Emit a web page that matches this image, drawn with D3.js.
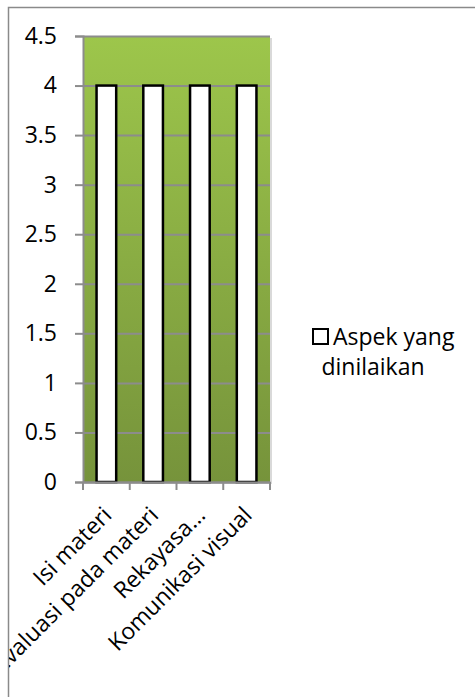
<!DOCTYPE html>
<html>
<head>
<meta charset="utf-8">
<script src="https://cdn.jsdelivr.net/npm/d3@7"></script>
<style>
  body { margin: 0; background: #fff; }
  svg { display: block; font-family: "Open Sans", sans-serif; }
</style>
</head>
<body>
<div id="chart"></div>
<script>
const categories = ['Isi materi', 'Evaluasi pada materi', 'Rekayasa…', 'Komunikasi visual'];
const values = [4, 4, 4, 4];
const yTicks = [0, 0.5, 1, 1.5, 2, 2.5, 3, 3.5, 4, 4.5];
const legendLines = ['Aspek yang', 'dinilaikan'];

const width = 475;
const height = 697;
const plot = { left: 83, right: 270, top: 36, bottom: 482 };

const svg = d3.select('#chart')
    .append('svg')
    .attr('width', width)
    .attr('height', height);

const defs = svg.append('defs');
const grad = defs.append('linearGradient')
    .attr('id', 'bg')
    .attr('x1', 0).attr('y1', 0).attr('x2', 0).attr('y2', 1);
grad.append('stop').attr('offset', '0%').attr('stop-color', '#9dc64b');
grad.append('stop').attr('offset', '100%').attr('stop-color', '#76933b');

defs.append('clipPath').attr('id', 'frame')
    .append('rect')
    .attr('x', 9).attr('y', 8).attr('width', width).attr('height', height);

// outer chart border
svg.append('rect')
    .attr('x', 8.5).attr('y', 7.5)
    .attr('width', width + 10).attr('height', height + 10)
    .attr('fill', 'none')
    .attr('stroke', '#8a8a8a')
    .attr('stroke-width', 1.5);

const g = svg.append('g').attr('clip-path', 'url(#frame)');

const x = d3.scaleBand()
    .domain(categories)
    .range([plot.left, plot.right])
    .paddingInner(0.58)
    .paddingOuter(0.29);

const xCat = d3.scaleBand()
    .domain(categories)
    .range([plot.left, plot.right]);

const y = d3.scaleLinear()
    .domain([0, 4.5])
    .range([plot.bottom, plot.top]);

// plot area shadow + background
g.append('rect')
    .attr('x', plot.left + 2).attr('y', plot.top + 2)
    .attr('width', plot.right - plot.left).attr('height', plot.bottom - plot.top)
    .attr('fill', '#d9d9d9');
g.append('rect')
    .attr('x', plot.left).attr('y', plot.top)
    .attr('width', plot.right - plot.left).attr('height', plot.bottom - plot.top)
    .attr('fill', 'url(#bg)');

// gridlines
g.append('g')
    .attr('transform', `translate(${plot.left},0)`)
    .call(d3.axisLeft(y).tickValues(yTicks).tickSize(-(plot.right - plot.left)).tickFormat(''))
    .call(s => s.select('.domain').remove())
    .call(s => s.selectAll('line').attr('stroke', '#8c8c8c').attr('stroke-width', 2));

// y axis
g.append('g')
    .attr('transform', `translate(${plot.left},0)`)
    .call(d3.axisLeft(y).tickValues(yTicks).tickSize(8).tickPadding(18).tickFormat(d3.format('')))
    .call(s => s.select('.domain').attr('stroke', '#8c8c8c').attr('stroke-width', 2))
    .call(s => s.selectAll('line').attr('stroke', '#8c8c8c').attr('stroke-width', 2))
    .call(s => s.selectAll('text')
        .attr('font-size', 23)
        .attr('font-family', '"Open Sans", sans-serif')
        .attr('fill', '#000'));

// bars
g.append('g')
    .selectAll('rect')
    .data(values)
    .join('rect')
    .attr('x', (d, i) => x(categories[i]))
    .attr('y', d => y(d))
    .attr('width', x.bandwidth())
    .attr('height', d => y(0) - y(d))
    .attr('fill', '#fff')
    .attr('stroke', '#000')
    .attr('stroke-width', 2.5);

// x axis
const xAxisG = g.append('g')
    .attr('transform', `translate(0,${plot.bottom})`)
    .call(d3.axisBottom(xCat).tickSize(0).tickFormat(''))
    .call(s => s.select('.domain').attr('stroke', '#8c8c8c').attr('stroke-width', 2));

// category boundary ticks
xAxisG.selectAll('.bound')
    .data(categories.map(c => xCat(c)).concat([plot.right]))
    .join('line')
    .attr('class', 'bound')
    .attr('x1', d => d).attr('x2', d => d)
    .attr('y1', 0).attr('y2', 8)
    .attr('stroke', '#8c8c8c')
    .attr('stroke-width', 2);

// rotated category labels (the long one is cut by the chart frame, as in the original)
g.append('g')
    .selectAll('text')
    .data(categories)
    .join('text')
    .attr('transform', d => `translate(${xCat(d) + xCat.bandwidth() / 2 + 1},${plot.bottom + 29}) rotate(-45)`)
    .attr('text-anchor', 'end')
    .attr('dy', '0.35em')
    .attr('font-size', 23)
    .attr('fill', '#000')
    .text(d => d);

// legend
const legend = svg.append('g');
legend.append('rect')
    .attr('x', 313).attr('y', 329)
    .attr('width', 15).attr('height', 15)
    .attr('fill', '#fff')
    .attr('stroke', '#000')
    .attr('stroke-width', 2);
legend.append('text')
    .attr('x', 333).attr('y', 345)
    .attr('font-size', 23)
    .attr('fill', '#000')
    .text(legendLines[0]);
legend.append('text')
    .attr('x', 373).attr('y', 375)
    .attr('text-anchor', 'middle')
    .attr('font-size', 23)
    .attr('fill', '#000')
    .text(legendLines[1]);
</script>
</body>
</html>
